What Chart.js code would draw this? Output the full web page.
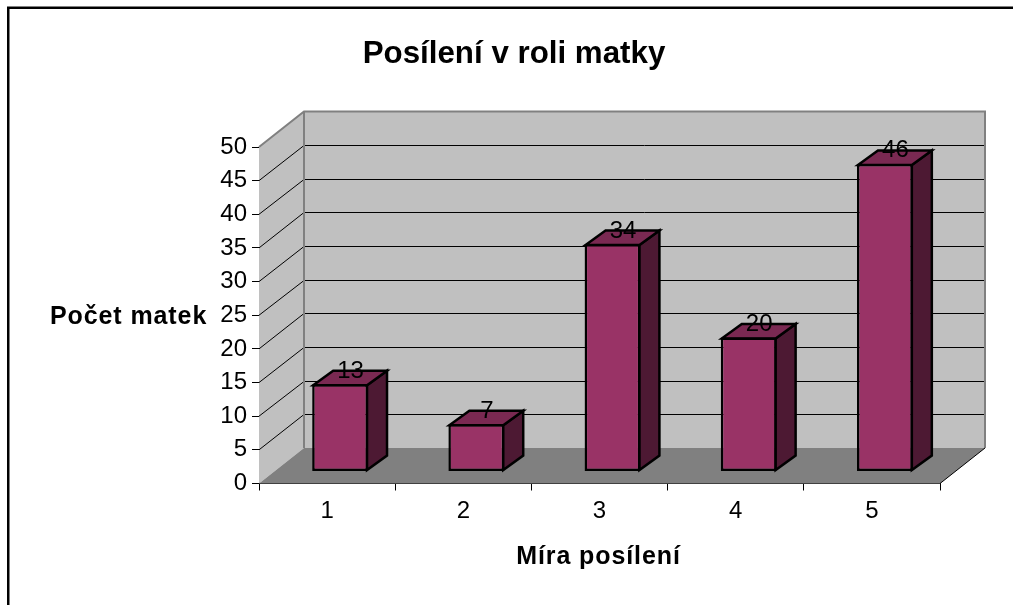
<!DOCTYPE html>
<html>
<head>
<meta charset="utf-8">
<script src="https://cdn.jsdelivr.net/npm/chart.js@4"></script>
<style>
    html, body { margin: 0; padding: 0; background: #fff; overflow: hidden; width: 1013px; height: 605px; }
    #frame { position: absolute; left: 7px; top: 7px; width: 1020px; height: 620px; border: 2px solid #000; box-shadow: 0 -1px 0 #808080, inset 1px 0 0 #808080; }
    #chart { position: absolute; left: 9px; top: 8px; }
</style>
</head>
<body>
<div id="frame"></div>
<canvas id="chart" width="1010" height="597"></canvas>
<script>
const categories = ['1', '2', '3', '4', '5'];
const counts = [13, 7, 34, 20, 46];
const yMax = 50;
const yStep = 5;

const FONT = '"Liberation Sans", Arial, sans-serif';

// depth of the box and of the bars
const wallDx = 45, wallDy = -35.5;
const barDx = 20, barDy = -14.5;
const barShiftX = 13, barShiftY = -12.5, barScale = 0.992;

function poly(ctx, pts, fill, stroke, lw) {
    ctx.beginPath();
    pts.forEach((p, i) => i ? ctx.lineTo(p[0], p[1]) : ctx.moveTo(p[0], p[1]));
    ctx.closePath();
    if (fill) { ctx.fillStyle = fill; ctx.fill(); }
    if (stroke) { ctx.strokeStyle = stroke; ctx.lineWidth = lw; ctx.stroke(); }
}

const box3d = {
    id: 'box3d',
    // bars stand in the middle of the floor, not on the front edge
    afterDatasetsUpdate(chart) {
        const xs = chart.scales.x, ys = chart.scales.y;
        const zero = ys.getPixelForValue(0);
        chart.getDatasetMeta(0).data.forEach((el, i) => {
            el.x = xs.getPixelForValue(i) + barShiftX;
            el.base = zero + barShiftY;
            el.y = el.base - (zero - ys.getPixelForValue(counts[i])) * barScale;
        });
    },
    beforeDatasetsDraw(chart) {
        const ctx = chart.ctx, a = chart.chartArea, ys = chart.scales.y;
        ctx.save();
        // left wall, back wall, floor
        poly(ctx, [[a.left, a.top], [a.left + wallDx, a.top + wallDy], [a.left + wallDx, a.bottom + wallDy], [a.left, a.bottom]], '#c0c0c0');
        poly(ctx, [[a.left + wallDx, a.top + wallDy], [a.right + wallDx, a.top + wallDy], [a.right + wallDx, a.bottom + wallDy], [a.left + wallDx, a.bottom + wallDy]], '#c0c0c0');
        poly(ctx, [[a.left, a.bottom], [a.right, a.bottom], [a.right + wallDx, a.bottom + wallDy], [a.left + wallDx, a.bottom + wallDy]], '#808080');

        // grid lines run round the walls, snapped so the back part stays crisp
        ctx.strokeStyle = '#000';
        ctx.lineWidth = 1;
        for (let v = yStep; v < yMax; v += yStep) {
            const y = ys.getPixelForValue(v);
            const backY = Math.round(y + wallDy) + 0.5;
            ctx.beginPath();
            ctx.moveTo(a.left, y);
            ctx.lineTo(a.left + wallDx, backY);
            ctx.lineTo(a.right + wallDx, backY);
            ctx.stroke();
        }

        // wall edges
        ctx.strokeStyle = '#808080';
        ctx.lineWidth = 2;
        ctx.beginPath();
        ctx.moveTo(a.left, a.top);
        ctx.lineTo(a.left + wallDx, a.top + wallDy);
        ctx.lineTo(a.right + wallDx, a.top + wallDy);
        ctx.lineTo(a.right + wallDx, a.bottom + wallDy);
        ctx.moveTo(a.left + wallDx, a.top + wallDy);
        ctx.lineTo(a.left + wallDx, a.bottom + wallDy);
        ctx.stroke();
        ctx.strokeStyle = '#000';
        ctx.lineWidth = 1;
        ctx.beginPath();
        ctx.moveTo(a.right, a.bottom);
        ctx.lineTo(a.right + wallDx, a.bottom + wallDy);
        ctx.stroke();

        // side and top of the bars, the front comes from Chart.js
        chart.getDatasetMeta(0).data.forEach((el) => {
            const l = el.x - el.width / 2 + 1, r = el.x + el.width / 2 - 1;
            const t = el.y + 1, b = el.base - 1;
            poly(ctx, [[r, t], [r + barDx, t + barDy], [r + barDx, b + barDy], [r, b]], '#4d1933', '#000', 2.5);
            poly(ctx, [[l, t], [l + barDx, t + barDy], [r + barDx, t + barDy], [r, t]], '#7a2952', '#000', 2.5);
        });
        ctx.restore();
    },
    afterDatasetsDraw(chart) {
        const ctx = chart.ctx, a = chart.chartArea;
        ctx.save();
        ctx.fillStyle = '#000';
        ctx.font = '24px ' + FONT;
        ctx.textAlign = 'center';
        ctx.textBaseline = 'alphabetic';
        chart.getDatasetMeta(0).data.forEach((el, i) => {
            ctx.fillText(String(counts[i]), el.x + 10.5, el.y - 6.5);
        });
        // axis titles, the y one stays horizontal and both are spaced out
        ctx.font = 'bold 25px ' + FONT;
        ctx.letterSpacing = '0.9px';
        ctx.fillText('Míra posílení', (a.left + a.right) / 2 - 1, 555.5);
        ctx.textAlign = 'left';
        ctx.fillText('Počet matek', 41, 316);
        ctx.restore();
    }
};

new Chart(document.getElementById('chart'), {
    type: 'bar',
    data: {
        labels: categories,
        datasets: [{
            label: 'Počet matek',
            data: counts,
            backgroundColor: '#993366',
            borderColor: '#000',
            borderWidth: 2.5,
            borderSkipped: false,
            barPercentage: 0.41,
            categoryPercentage: 1
        }]
    },
    plugins: [box3d],
    options: {
        responsive: false,
        animation: false,
        layout: { padding: { left: 79, right: 79 } },
        plugins: {
            legend: { display: false },
            tooltip: { enabled: false },
            title: {
                display: true,
                text: 'Posílení v roli matky',
                color: '#000',
                font: { family: FONT, size: 31.3, weight: 'bold' },
                padding: { top: 27.2, bottom: 74.24 }
            }
        },
        scales: {
            x: {
                afterFit(scale) { scale.height = 121.5; },
                grid: { drawOnChartArea: false, tickLength: 7, color: '#000' },
                border: { color: '#000' },
                ticks: { color: '#000', padding: 6, font: { family: FONT, size: 24 } }
            },
            y: {
                min: 0,
                max: yMax,
                afterFit(scale) { scale.width = 171; },
                grid: { drawOnChartArea: false, tickLength: 7, color: '#000' },
                border: { color: '#000' },
                ticks: { stepSize: yStep, color: '#000', padding: 5, font: { family: FONT, size: 24 } }
            }
        }
    }
});
</script>
</body>
</html>
